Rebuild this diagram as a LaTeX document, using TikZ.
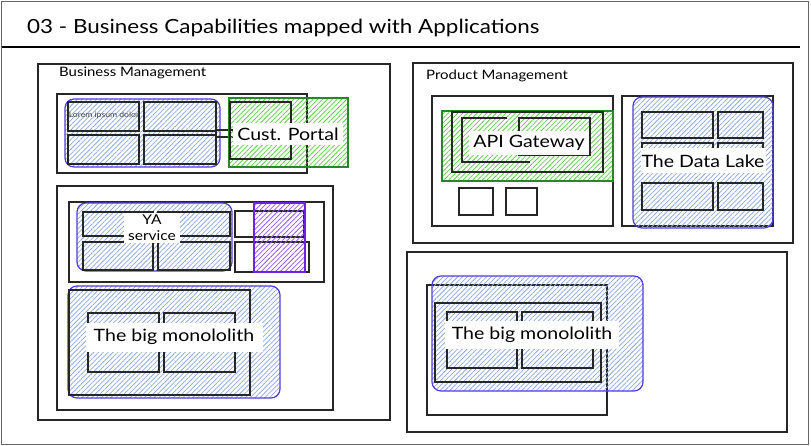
\documentclass[tikz,border=0pt]{standalone}
\usepackage{fontspec}
\setmainfont[FakeStretch=1.15]{Lato}
\usetikzlibrary{patterns.meta,positioning}
\definecolor{appblue}{RGB}{80,60,225}
\definecolor{hatchblue}{RGB}{140,170,222}
\definecolor{gwgreen}{RGB}{40,135,40}
\definecolor{hatchgreen}{RGB}{95,205,75}
\definecolor{gridviolet}{RGB}{105,35,225}
\definecolor{hatchviolet}{RGB}{150,85,240}
\tikzset{
sheet/.style = {draw=black!60, line width=1.8pt},
rule/.style  = {draw=black, line width=1.1pt},
frame/.style = {draw=black!85, line width=1.2pt},
cell/.style  = {draw=black!85, line width=1.2pt},
hatch/.style = {pattern={Lines[angle=45,distance=3.4pt,line width=0.75pt]}, pattern color=#1},
app/.style   = {draw=appblue, line width=1.2pt, rounded corners=9pt, hatch=hatchblue},
gw/.style    = {draw=gwgreen, line width=1.2pt, hatch=hatchgreen},
slot/.style  = {draw=gridviolet, line width=1.2pt, hatch=hatchviolet},
title/.style = {font=\fontsize{19.5}{24}\selectfont, inner sep=0pt},
area/.style  = {font=\fontsize{13}{15}\selectfont, inner sep=0pt},
tag/.style   = {fill=white, inner xsep=4pt, inner ysep=0pt, minimum height=25pt, font=\fontsize{17}{20}\selectfont}
}

\begin{document}
\begin{tikzpicture}[x=1pt, y=-1pt]
  \useasboundingbox (0,0) rectangle (811,446);
  \draw [sheet] (1.5,1.5) rectangle (808.5,444.5);
  \node [title, anchor=west] (title) at (27,28) {03 - Business Capabilities mapped with Applications};
  \draw [rule] (2,47) -- (800,47);

  % Business Management
  \draw [frame] (38,64) rectangle (390,420);
  \node [area, anchor=west] (bizlbl) at (59,73) {Business Management};

  \draw [frame] (57,94) rectangle (307,173);
  \draw [app] (65,99) rectangle (220,167);
  \draw [cell] (68,102) rectangle (139,131);
  \draw [cell] (144,102) rectangle (216,131);
  \draw [cell] (68,135) rectangle (139,164);
  \draw [cell] (144,135) rectangle (216,164);
  \node [font=\fontsize{7.5}{9}\selectfont, text=black!75, inner sep=0pt] (lorem) at (104,115) {Lorem ipsum dolor};
  \draw [cell] (216,130) rectangle (240,137);
  \draw [gw] (229,98) rectangle (348,167);
  \draw [cell] (230,102) rectangle (291,159);
  \node [tag, minimum height=22pt] (portal) at (288,134) {Cust. Portal};

  \draw [frame] (57,186) rectangle (333,410);
  \draw [frame] (69,202) rectangle (324,282);
  \draw [app] (77,203) rectangle (232,271);
  \draw [cell] (83,212) rectangle (153,236);
  \draw [cell] (158,212) rectangle (230,236);
  \draw [cell] (83,242) rectangle (153,270);
  \draw [cell] (158,242) rectangle (230,270);
  \node [tag, align=center, font=\fontsize{13.5}{16}\selectfont, inner ysep=2pt, minimum height=0pt] (yasvc) at (152,228) {YA\\service};
  \draw [cell] (235,211) rectangle (304,237);
  \draw [cell] (235,242) rectangle (309,272);
  \draw [slot] (254,203) rectangle (305,272);

  \draw [app] (68,286) rectangle (280,398);
  \draw [cell] (69,290) rectangle (250,395);
  \draw [cell] (88,313) rectangle (159,372);
  \draw [cell] (164,313) rectangle (235,372);
  \node [tag, minimum width=177pt, minimum height=29pt] (mono1) at (174,337) {The big monololith};

  % Product Management
  \draw [frame] (413,63) rectangle (793,243);
  \node [area, anchor=west] (prodlbl) at (426,76) {Product Management};

  \draw [frame] (432,96) rectangle (613,226);
  \draw [gw] (442,111) rectangle (613,181);
  \draw [cell] (452,112) rectangle (603,172);
  \draw [cell] (507,118) -- (462,118) -- (462,162) -- (530,162);
  \draw [cell] (519,118) rectangle (590,155);
  \node [tag, minimum width=118pt, minimum height=24pt] (apigw) at (529,143) {API Gateway};
  \draw [cell] (459,188) rectangle (493,215);
  \draw [cell] (506,188) rectangle (537,215);

  \draw [frame] (622,96) rectangle (773,226);
  \draw [app] (633,97) rectangle (773,228);
  \draw [cell] (642,112) rectangle (713,138);
  \draw [cell] (718,112) rectangle (763,138);
  \draw [cell] (642,143) rectangle (713,168);
  \draw [cell] (718,143) rectangle (763,168);
  \draw [cell] (642,183) rectangle (713,210);
  \draw [cell] (718,183) rectangle (763,210);
  \node [tag, minimum width=121pt, minimum height=25pt, inner xsep=1pt] (lake) at (703,161) {The Data Lake};

  % second product area
  \draw [frame] (407,252) rectangle (787,432);
  \draw [cell] (427,285) rectangle (607,415);
  \draw [app] (432,276) rectangle (643,391);
  \draw [cell] (435,303) rectangle (601,382);
  \draw [cell] (447,312) rectangle (517,368);
  \draw [cell] (522,312) rectangle (593,368);
  \node [tag, minimum width=174pt, minimum height=28pt] (mono2) at (532,335) {The big monololith};
\end{tikzpicture}
\end{document}
